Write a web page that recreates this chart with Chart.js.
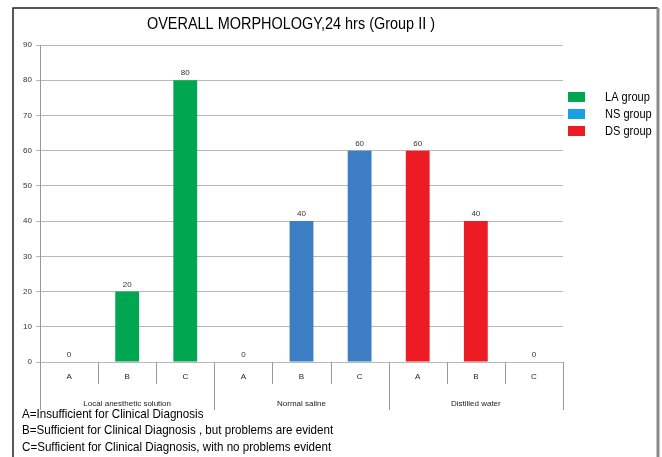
<!DOCTYPE html>
<html>
<head>
<meta charset="utf-8">
<script src="https://cdn.jsdelivr.net/npm/chart.js@4.4.1/dist/chart.umd.min.js"></script>
<style>
  html, body { margin: 0; padding: 0; background: #fff; }
  canvas { display: block; }
</style>
</head>
<body>
<canvas id="morphChart" width="662" height="457"></canvas>
<script>
// rating per column, solution per group of three columns
const ratings = ['A', 'B', 'C', 'A', 'B', 'C', 'A', 'B', 'C'];
const solutions = ['Local anesthetic solution', 'Normal saline', 'Distilled water'];
const groupNames = ['LA group', 'NS group', 'DS group'];

// percentages for ratings A, B, C
const laValues = [0, 20, 80];
const nsValues = [0, 40, 60];
const dsValues = [60, 40, 0];

const yMax = 90;
const yStep = 10;

const notes = [
  'A=Insufficient for Clinical Diagnosis',
  'B=Sufficient for Clinical Diagnosis , but problems are evident',
  'C=Sufficient for Clinical Diagnosis, with no problems evident'
];

const barColors = ['#00a650', '#3c7dc4', '#ed1c24'];
const legendColors = ['#00a651', '#1ba1e2', '#ed1c24'];

const textFont = '"Liberation Sans", Arial, sans-serif';

// put one group's three values into its own slot on the 9-column axis
function placeAt(values, slot) {
  const out = new Array(ratings.length).fill(null);
  values.forEach((v, i) => { out[slot * 3 + i] = v; });
  return out;
}

// text squeezed horizontally for a narrower face
function squeezedText(ctx, text, x, y, sx) {
  ctx.save();
  ctx.translate(x, y);
  ctx.scale(sx, 1);
  ctx.fillText(text, 0, 0);
  ctx.restore();
}

const extras = {
  id: 'extras',
  afterDraw(chart) {
    const ctx = chart.ctx;
    const xs = chart.scales.x;
    const area = chart.chartArea;
    const half = (xs.getPixelForValue(1) - xs.getPixelForValue(0)) / 2;
    const startX = xs.getPixelForValue(0) - half;
    ctx.save();

    // dividers under the axis
    ctx.strokeStyle = '#9a9a9a';
    ctx.lineWidth = 1;
    for (let i = 0; i <= ratings.length; i++) {
      const px = Math.round(startX + i * 2 * half) + 0.5;
      const len = (i % 3 === 0) ? 48 : 22;
      ctx.beginPath();
      ctx.moveTo(px, area.bottom);
      ctx.lineTo(px, area.bottom + len);
      ctx.stroke();
    }

    // solution names
    ctx.fillStyle = '#222';
    ctx.font = '8px ' + textFont;
    ctx.textAlign = 'center';
    ctx.textBaseline = 'middle';
    solutions.forEach((name, g) => {
      ctx.fillText(name, xs.getPixelForValue(g * 3 + 1), 404);
    });

    // value labels over the bars
    ctx.fillStyle = '#333';
    ctx.textBaseline = 'bottom';
    chart.data.datasets.forEach((ds, di) => {
      const meta = chart.getDatasetMeta(di);
      meta.data.forEach((bar, i) => {
        if (ds.data[i] === null) return;
        ctx.fillText(String(ds.data[i]), bar.x, bar.y - 3);
      });
    });

    // title
    ctx.fillStyle = '#000';
    ctx.font = '17px ' + textFont;
    ctx.textBaseline = 'middle';
    squeezedText(ctx, 'OVERALL MORPHOLOGY,24 hrs (Group II )', 291, 24, 0.85);

    // legend
    ctx.textAlign = 'left';
    ctx.font = '13px ' + textFont;
    groupNames.forEach((name, i) => {
      const y = 97 + i * 17;
      ctx.fillStyle = legendColors[i];
      ctx.fillRect(568, y - 5, 17, 10);
      ctx.fillStyle = '#000';
      squeezedText(ctx, name, 605, y, 0.85);
    });

    // footnotes
    ctx.font = '13.5px ' + textFont;
    notes.forEach((t, i) => {
      squeezedText(ctx, t, 22, 414 + i * 16.5, 0.86);
    });

    // frame
    ctx.strokeStyle = '#222';
    ctx.lineWidth = 1.5;
    ctx.beginPath();
    ctx.moveTo(13, 457);
    ctx.lineTo(13, 8);
    ctx.lineTo(658, 8);
    ctx.stroke();
    ctx.strokeStyle = '#8a8a8a';
    ctx.lineWidth = 3;
    ctx.beginPath();
    ctx.moveTo(658, 8);
    ctx.lineTo(658, 457);
    ctx.stroke();

    ctx.restore();
  }
};

new Chart(document.getElementById('morphChart'), {
  type: 'bar',
  data: {
    labels: ratings,
    datasets: [laValues, nsValues, dsValues].map((vals, g) => ({
      label: groupNames[g],
      data: placeAt(vals, g),
      backgroundColor: barColors[g],
      borderWidth: 0,
      barPercentage: 0.41,
      categoryPercentage: 1,
      skipNull: true
    }))
  },
  options: {
    responsive: false,
    animation: false,
    devicePixelRatio: 1,
    layout: { padding: { left: 10, right: 99, top: 45, bottom: 0 } },
    plugins: {
      legend: { display: false },
      title: { display: false },
      tooltip: { enabled: false }
    },
    scales: {
      x: {
        offset: true,
        grid: { display: false },
        border: { display: false },
        ticks: {
          color: '#222',
          font: { size: 8, family: textFont },
          padding: 2,
          maxRotation: 0
        },
        afterFit: s => { s.height = 95; }
      },
      y: {
        min: 0,
        max: yMax,
        ticks: {
          stepSize: yStep,
          color: '#333',
          font: { size: 8, family: textFont },
          padding: 4
        },
        grid: { color: '#b8b8b8', tickLength: 4 },
        border: { color: '#9a9a9a' },
        afterFit: s => { s.width = 30; }
      }
    }
  },
  plugins: [extras]
});
</script>
</body>
</html>
